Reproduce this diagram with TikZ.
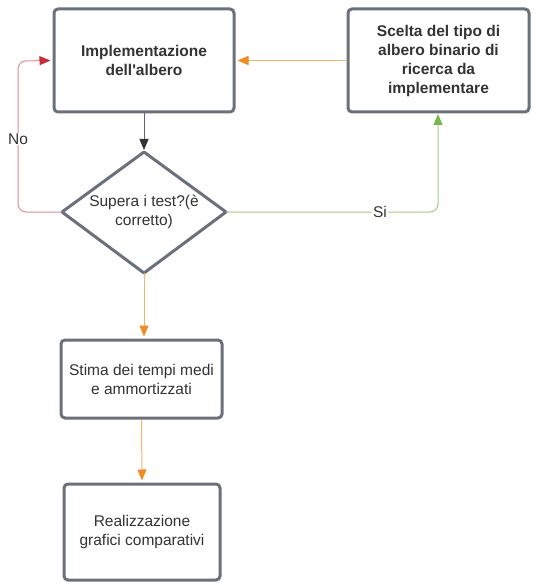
\documentclass[tikz,border=0pt]{standalone}
\usepackage{fontspec}
\setmainfont{Liberation Sans}
\usetikzlibrary{arrows.meta,shapes.geometric}
\definecolor{boxgray}{HTML}{6B717B}
\definecolor{txt}{HTML}{333333}
\definecolor{cred}{HTML}{C92D39}
\definecolor{cgreen}{HTML}{7AB648}
\definecolor{corange}{HTML}{EF8D22}
\definecolor{cdark}{HTML}{333333}
\tikzset{
  box/.style={draw=boxgray, line width=3pt, rounded corners=4pt, fill=white,
    text=txt, align=center, font=\fontsize{15.5}{19}\selectfont, inner sep=0pt},
  redln/.style={-{Triangle[length=11pt,width=9pt,color=cred]}, shorten >=2pt, draw=cred!55, line width=1pt},
  greenln/.style={-{Triangle[length=11pt,width=9pt,color=cgreen]}, shorten >=2pt, draw=cgreen!70, line width=1pt},
  orangeln/.style={-{Triangle[length=11pt,width=9pt,color=corange]}, shorten >=2pt, draw=corange!65, line width=1pt},
  darkln/.style={-{Triangle[length=11pt,width=9pt,color=cdark]}, shorten >=2pt, draw=cdark!75, line width=1pt},
  lbl/.style={fill=white, text=txt, font=\fontsize{15.5}{17}\selectfont, inner sep=1pt}
}
\begin{document}
\begin{tikzpicture}[x=1pt,y=-1pt]
\useasboundingbox (0,0) rectangle (535,585);
\node[box, minimum width=180pt, minimum height=103pt] (impl) at (144,60.5)
  {\bfseries Implementazione\\\bfseries dell\textquotesingle albero};
\node[box, minimum width=181pt, minimum height=103pt] (scelta) at (438.5,60.5)
  {\bfseries Scelta del tipo di\\\bfseries albero binario di\\\bfseries ricerca da\\\bfseries implementare};
\node[box, minimum width=161pt, minimum height=78pt] (stima) at (141.5,379)
  {Stima dei tempi medi\\e ammortizzati};
\node[box, minimum width=156pt, minimum height=96pt] (real) at (142,532)
  {Realizzazione\\grafici comparativi};
% decision diamond
\coordinate (dtop) at (144,152);
\coordinate (dleft) at (62,212);
\coordinate (dright) at (226,212);
\coordinate (dbot) at (144,273);
\draw[draw=boxgray, line width=3pt, fill=white, line join=round]
  (dtop) -- (dright) -- (dbot) -- (dleft) -- cycle;
\node[text=txt, align=center, font=\fontsize{15.5}{19}\selectfont] (test) at (144,212)
  {Supera i test?(è\\corretto)};
% connectors
\draw[darkln] (impl.south) -- (dtop);
\draw[orangeln] (scelta.west) -- (impl.east);
\draw[redln, rounded corners=8pt] (dleft) -- (18,212) -- (18,61) -- (impl.west);
\draw[greenln, rounded corners=8pt] (dright) -- (438,212) -- (438,112);
\draw[orangeln] (dbot) -- (dbot |- stima.north);
\draw[orangeln] (stima.south) -- (real.north);
% labels
\node[lbl] (no) at (18,139) {No};
\node[lbl] (si) at (380,212) {Si};
\end{tikzpicture}
\end{document}
